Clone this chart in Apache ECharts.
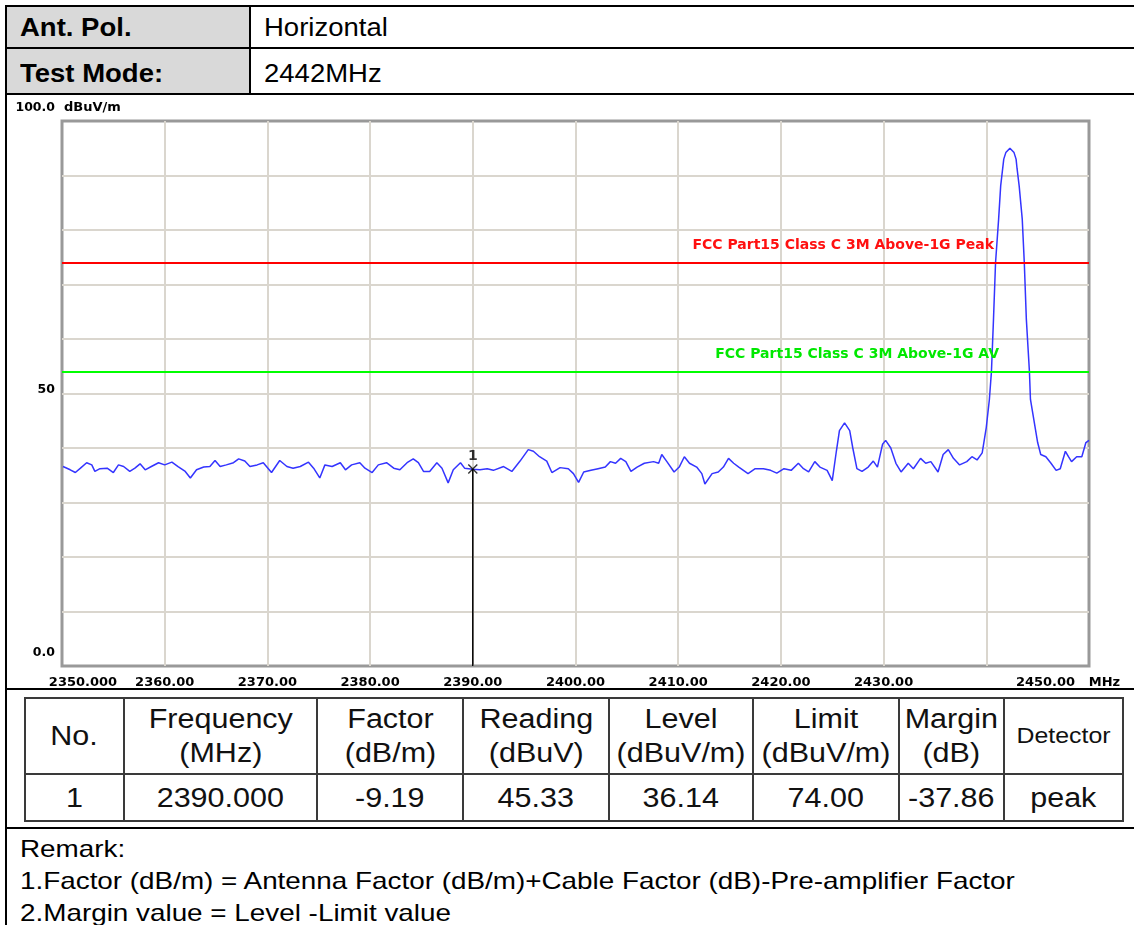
<!DOCTYPE html>
<html>
<head>
<meta charset="utf-8">
<script src="https://cdn.jsdelivr.net/npm/echarts@6/dist/echarts.min.js"></script>
<style>
  body { margin: 0; width: 1134px; height: 925px; position: relative; background: #fff; overflow: hidden;
         font-family: "Liberation Sans", Arial, sans-serif; color: #000; }
  .ln { position: absolute; background: #000; }
  .cell { position: absolute; background: #d9d9d9; }
  .txt { position: absolute; white-space: nowrap; font-size: 25px; line-height: 30px; }
  .sx { display: inline-block; transform: scaleX(1.1); transform-origin: left center; }
  .rm .sx { transform: scaleX(1.16); }
  #chart { position: absolute; left: 0; top: 95px; width: 1134px; height: 594px; }
  #meas { position: absolute; left: 24px; top: 697px; width: 1098px; border-collapse: collapse; table-layout: fixed; }
  #meas td { border: 2px solid #3a3a3a; text-align: center; padding: 0; font-size: 27px; line-height: 34px; color: #111; white-space: nowrap; }
  #meas td .sx { transform: scaleX(1.13); transform-origin: center center; }
  #meas tr.hd td { height: 74px; }
  #meas tr.bd td { height: 45px; }
</style>
</head>
<body>
  <!-- header table -->
  <div class="cell" style="left:6px;top:6px;width:244px;height:88px"></div>
  <div class="ln" style="left:5px;top:5px;width:1129px;height:2px"></div>
  <div class="ln" style="left:5px;top:47px;width:1129px;height:2px"></div>
  <div class="ln" style="left:5px;top:93px;width:1129px;height:2px"></div>
  <div class="ln" style="left:249px;top:5px;width:2px;height:90px"></div>
  <div class="ln" style="left:5px;top:5px;width:2px;height:920px"></div>
  <div class="ln" style="left:5px;top:688px;width:1129px;height:2px"></div>
  <div class="ln" style="left:5px;top:827px;width:1129px;height:2px"></div>

  <div class="txt" style="left:20px;top:12px;font-weight:bold"><span class="sx">Ant. Pol.</span></div>
  <div class="txt" style="left:264px;top:12px"><span class="sx">Horizontal</span></div>
  <div class="txt" style="left:20px;top:58px;font-weight:bold"><span class="sx">Test Mode:</span></div>
  <div class="txt" style="left:264px;top:58px"><span class="sx">2442MHz</span></div>

  <div id="chart"></div>

  <table id="meas">
    <colgroup>
      <col style="width:99px"><col style="width:193px"><col style="width:146px"><col style="width:146px">
      <col style="width:144px"><col style="width:146px"><col style="width:105px"><col style="width:119px">
    </colgroup>
    <tr class="hd">
      <td><span class="sx">No.</span></td>
      <td><span class="sx">Frequency<br>(MHz)</span></td>
      <td><span class="sx">Factor<br>(dB/m)</span></td>
      <td><span class="sx">Reading<br>(dBuV)</span></td>
      <td><span class="sx">Level<br>(dBuV/m)</span></td>
      <td><span class="sx">Limit<br>(dBuV/m)</span></td>
      <td><span class="sx">Margin<br>(dB)</span></td>
      <td style="font-size:22px"><span class="sx">Detector</span></td>
    </tr>
    <tr class="bd">
      <td><span class="sx">1</span></td>
      <td><span class="sx">2390.000</span></td>
      <td><span class="sx">-9.19</span></td>
      <td><span class="sx">45.33</span></td>
      <td><span class="sx">36.14</span></td>
      <td><span class="sx">74.00</span></td>
      <td><span class="sx">-37.86</span></td>
      <td><span class="sx">peak</span></td>
    </tr>
  </table>

  <div class="txt rm" style="left:20px;top:834px;font-size:24px"><span class="sx">Remark:</span></div>
  <div class="txt rm" style="left:20px;top:866px;font-size:24px"><span class="sx">1.Factor (dB/m) = Antenna Factor (dB/m)+Cable Factor (dB)-Pre-amplifier Factor</span></div>
  <div class="txt rm" style="left:20px;top:898px;font-size:24px"><span class="sx">2.Margin value = Level -Limit value</span></div>

<script>
// spectrum trace (MHz, dBuV/m)
const freqs = [
  2350.1, 2350.8, 2351.3, 2351.8, 2352.4, 2352.9, 2353.2, 2353.7, 2354.4, 2355.0,
  2355.5, 2356.0, 2356.6, 2357.1, 2357.6, 2358.1, 2358.7, 2359.4, 2360.0, 2360.7,
  2361.3, 2362.0, 2362.5, 2363.1, 2363.8, 2364.4, 2364.9, 2365.4, 2366.0, 2366.7,
  2367.2, 2367.8, 2368.3, 2369.0, 2369.6, 2370.4, 2371.2, 2371.9, 2372.5, 2373.2,
  2374.0, 2374.5, 2375.1, 2375.6, 2376.3, 2377.1, 2377.6, 2378.2, 2379.0, 2379.5,
  2380.2, 2380.8, 2381.6, 2382.3, 2382.9, 2383.6, 2384.2, 2384.7, 2385.2, 2385.8,
  2386.5, 2387.0, 2387.6, 2388.1, 2388.8, 2389.2, 2390.0, 2390.7, 2391.4, 2392.0,
  2393.0, 2393.8, 2394.6, 2395.4, 2395.9, 2396.5, 2397.2, 2397.7, 2398.5, 2399.3,
  2399.8, 2400.3, 2400.8, 2401.5, 2402.2, 2402.9, 2403.4, 2403.9, 2404.4, 2404.9,
  2405.4, 2406.0, 2406.7, 2407.6, 2408.1, 2408.4, 2408.9, 2409.6, 2410.1, 2410.6,
  2411.1, 2411.8, 2412.3, 2412.6, 2413.3, 2413.9, 2414.4, 2414.9, 2415.4, 2415.9,
  2416.8, 2417.5, 2418.3, 2419.0, 2419.6, 2420.3, 2421.0, 2421.7, 2422.2, 2422.7,
  2423.3, 2423.8, 2424.5, 2425.0, 2425.4, 2425.7, 2426.2, 2426.7, 2427.0, 2427.4,
  2427.9, 2428.5, 2429.0, 2429.4, 2429.9, 2430.2, 2430.7, 2431.2, 2431.7, 2432.4,
  2432.9, 2433.6, 2434.1, 2434.6, 2435.3, 2435.8, 2436.3, 2436.8, 2437.4, 2438.1,
  2438.6, 2439.1, 2439.6, 2440.0, 2440.3, 2440.5, 2440.7, 2440.9, 2441.2, 2441.4,
  2441.7, 2441.9, 2442.3, 2442.7, 2442.9, 2443.0, 2443.2, 2443.5, 2443.7, 2443.9,
  2444.2, 2444.3, 2445.0, 2445.3, 2445.8, 2446.3, 2446.8, 2447.2, 2447.7, 2448.0,
  2448.3, 2448.8, 2449.3, 2449.7, 2450.0
];
const levels = [
  36.6, 36.0, 35.5, 36.3, 37.3, 36.9, 35.7, 36.2, 36.3, 35.5,
  36.9, 36.6, 35.7, 36.3, 37.1, 36.0, 36.6, 37.3, 36.9, 37.4,
  36.6, 35.7, 34.5, 36.0, 36.5, 36.6, 37.7, 36.6, 36.9, 37.3,
  38.0, 37.6, 36.6, 36.9, 37.3, 35.5, 37.7, 36.6, 36.3, 36.6,
  37.4, 36.3, 34.5, 36.9, 36.6, 37.3, 36.0, 36.9, 37.3, 36.3,
  35.5, 36.9, 37.3, 36.3, 36.0, 37.3, 38.0, 37.3, 35.7, 35.7,
  37.3, 36.3, 33.6, 36.0, 37.3, 36.3, 36.1, 36.0, 36.2, 35.9,
  36.6, 35.7, 37.6, 39.7, 39.4, 38.4, 37.6, 35.5, 36.4, 36.2,
  35.3, 33.7, 35.6, 35.9, 36.2, 36.5, 37.5, 37.2, 38.1, 37.5,
  35.7, 36.5, 37.2, 37.5, 37.2, 38.8, 37.5, 35.6, 36.5, 38.4,
  37.2, 36.5, 35.3, 33.4, 35.3, 35.6, 36.5, 38.1, 37.2, 36.5,
  35.3, 36.2, 36.2, 35.9, 35.4, 36.2, 35.9, 37.2, 36.2, 35.6,
  37.5, 36.5, 35.9, 34.0, 39.4, 43.2, 44.6, 43.2, 40.0, 36.2,
  35.7, 36.5, 37.6, 36.5, 40.7, 41.4, 40.0, 37.2, 35.6, 37.2,
  36.2, 38.1, 37.2, 37.5, 35.6, 38.8, 39.7, 38.1, 36.9, 37.5,
  38.4, 37.8, 39.1, 43.8, 48.9, 54.0, 63.6, 74.0, 82.0, 88.1,
  93.0, 94.2, 95.0, 94.2, 93.0, 91.2, 88.1, 82.0, 74.0, 63.6,
  54.0, 48.9, 41.0, 38.8, 38.4, 37.2, 35.9, 36.2, 39.4, 38.4,
  37.5, 38.4, 38.4, 41.0, 41.4
];

// limit lines
const limitValues = [74, 54];
const limitNames = ['FCC Part15 Class C 3M Above-1G Peak', 'FCC Part15 Class C 3M Above-1G AV'];

// marker 1
const markerFreq = [2390];
const markerLevel = [36.14];
const markerName = ['1'];

// axis tick labels
const xTickValues = [2350, 2360, 2370, 2380, 2390, 2400, 2410, 2420, 2430, 2440, 2450];
const xTickText = ['2350.000', '2360.00', '2370.00', '2380.00', '2390.00', '2400.00', '2410.00', '2420.00', '2430.00', '', '2450.00   MHz'];
const yTickValues = [0, 50, 100];
const yTickText = ['0.0', '50', '100.0'];

const chart = echarts.init(document.getElementById('chart'));
const lblFont = 'DejaVu Sans';

const option = {
  animation: false,
  grid: {
    left: 62, top: 26, width: 1027, height: 545,
    show: true, borderColor: '#999999', borderWidth: 3
  },
  xAxis: {
    type: 'value', min: 2350, max: 2450, interval: 10,
    axisLine: {show: false}, axisTick: {show: false},
    splitLine: {show: true, showMinLine: false, showMaxLine: false, lineStyle: {color: '#dad6ce', width: 2}},
    axisLabel: {
      showMinLabel: true, showMaxLabel: true, margin: 10,
      formatter: function (v) {
        const i = xTickValues.indexOf(v);
        if (i < 0 || xTickText[i] === '') return '';
        if (i === 0) return '{l|' + xTickText[i] + '}';
        if (i === xTickValues.length - 1) return '{r|' + xTickText[i] + '}';
        return '{n|' + xTickText[i] + '}';
      },
      rich: {
        n: {fontFamily: lblFont, fontWeight: 'bold', fontSize: 13, color: '#000'},
        l: {fontFamily: lblFont, fontWeight: 'bold', fontSize: 13, color: '#000', padding: [0, 0, 0, 42]},
        r: {fontFamily: lblFont, fontWeight: 'bold', fontSize: 13, color: '#000', padding: [0, 42, 0, 0]}
      }
    }
  },
  yAxis: {
    type: 'value', min: 0, max: 100, interval: 10,
    name: 'dBuV/m', nameLocation: 'end', nameGap: 7,
    nameTextStyle: {fontFamily: lblFont, fontWeight: 'bold', fontSize: 13, color: '#000', align: 'left', padding: [0, 0, 0, 2]},
    axisLine: {show: false}, axisTick: {show: false},
    splitLine: {show: true, showMinLine: false, showMaxLine: false, lineStyle: {color: '#dad6ce', width: 2}},
    axisLabel: {
      showMinLabel: true, showMaxLabel: true, margin: 7,
      formatter: function (v) {
        const i = yTickValues.indexOf(v);
        if (i < 0) return '';
        return '{t|' + yTickText[i] + '}\n{s' + i + '| }';
      },
      rich: {
        t: {fontFamily: lblFont, fontWeight: 'bold', fontSize: 12.5, color: '#000', lineHeight: 14},
        s0: {fontSize: 1, lineHeight: 26},
        s1: {fontSize: 1, lineHeight: 8},
        s2: {fontSize: 1, lineHeight: 26}
      }
    }
  },
  series: [
    {
      name: 'trace', type: 'line', showSymbol: false, silent: true,
      data: freqs.map((f, i) => [f, levels[i]]),
      lineStyle: {color: '#3434ff', width: 1.5},
      markLine: {
        silent: true, symbol: 'none',
        data: limitValues.map((v, i) => ({
          yAxis: v,
          lineStyle: {color: i === 0 ? '#ff0000' : '#00ff00', width: 2, type: 'solid'},
          label: {
            show: true, position: 'insideEndTop', formatter: limitNames[i],
            fontFamily: lblFont, fontWeight: 'bold', fontSize: 14,
            color: i === 0 ? '#ff1010' : '#00e800',
            padding: [0, i === 0 ? 90 : 85, 5, 0]
          }
        }))
      },
      z: 3
    },
    {
      name: 'markerLine', type: 'line', showSymbol: false, silent: true,
      data: [[markerFreq[0], 0], [markerFreq[0], markerLevel[0]]],
      lineStyle: {color: '#000', width: 1.5}, z: 4
    },
    {
      name: 'marker', type: 'scatter', silent: true,
      data: markerFreq.map((f, i) => [f, markerLevel[i]]),
      symbol: 'path://M0,1L1,0L5,4L9,0L10,1L6,5L10,9L9,10L5,6L1,10L0,9L4,5Z',
      symbolSize: 10,
      itemStyle: {color: '#000'},
      label: {
        show: true, position: 'top', distance: 1,
        formatter: (p) => markerName[p.dataIndex],
        fontFamily: lblFont, fontWeight: 'bold', fontSize: 14, color: '#000'
      },
      z: 5
    }
  ]
};
chart.setOption(option);
</script>
</body>
</html>
